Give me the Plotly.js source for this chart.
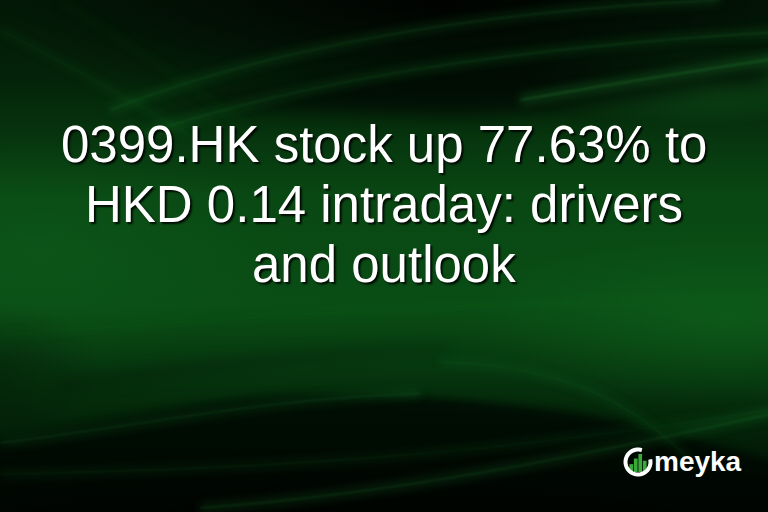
<!DOCTYPE html>
<html>
<head>
<meta charset="utf-8">
<script src="https://cdn.plot.ly/plotly-3.0.1.min.js"></script>
<style>
  html, body { margin: 0; padding: 0; background: #021004; }
  #card { width: 768px; height: 512px; }
</style>
</head>
<body>
<div id="card"></div>
<script>
// headline, one entry per line as it wraps on the card
const titleLines = ['0399.HK stock up 77.63% to', 'HKD 0.14 intraday: drivers', 'and outlook'];
const brandName = 'meyka';
// little bar glyph inside the logo ring
const logoBarIdx = [0, 1, 2, 3];
const logoBarVals = [7, 12, 16, 10];

const W = 768, H = 512;

// paint the wavy green backdrop on a canvas, then hand it to plotly as a layout image
function paintBackdrop() {
    const c = document.createElement('canvas');
    c.width = W; c.height = H;
    const g = c.getContext('2d');

    const lg = g.createLinearGradient(0, 0, 0, H);
    lg.addColorStop(0, '#031806');
    lg.addColorStop(0.15, '#042209');
    lg.addColorStop(0.38, '#094713');
    lg.addColorStop(0.6, '#0a4d15');
    lg.addColorStop(0.8, '#04280a');
    lg.addColorStop(1, '#010a02');
    g.fillStyle = lg;
    g.fillRect(0, 0, W, H);

    function blob(cx, cy, rx, ry, rgb, a) {
        g.save();
        g.translate(cx, cy);
        g.scale(rx, ry);
        const rg = g.createRadialGradient(0, 0, 0, 0, 0, 1);
        rg.addColorStop(0, 'rgba(' + rgb + ',' + a + ')');
        rg.addColorStop(1, 'rgba(' + rgb + ',0)');
        g.fillStyle = rg;
        g.beginPath();
        g.arc(0, 0, 1, 0, Math.PI * 2);
        g.fill();
        g.restore();
    }

    function fillPath(pts, color, blur) {
        g.save();
        g.filter = 'blur(' + blur + 'px)';
        g.fillStyle = color;
        g.beginPath();
        g.moveTo(pts[0], pts[1]);
        for (let i = 2; i < pts.length; i += 6) {
            g.bezierCurveTo(pts[i], pts[i + 1], pts[i + 2], pts[i + 3], pts[i + 4], pts[i + 5]);
        }
        g.closePath();
        g.fill();
        g.restore();
    }

    // brighter patches left-middle and right-middle
    blob(40, 250, 260, 110, '16,100,30', 0.4);
    blob(730, 320, 260, 90, '16,105,30', 0.5);
    blob(700, 85, 190, 40, '22,120,38', 0.45);
    // dark top
    blob(440, 0, 440, 120, '0,0,0', 0.9);

    // dark wedge below the top streaks
    fillPath([140, 108, 300, 85, 500, 50, 768, 62,
              768, 62, 768, 86, 768, 86,
              650, 96, 540, 118, 440, 116,
              340, 114, 240, 110, 140, 108], 'rgba(0,0,0,0.55)', 10);

    // dark band in the middle-left
    fillPath([60, 380, 200, 360, 330, 345, 450, 345,
              450, 345, 450, 352, 450, 352,
              330, 355, 200, 372, 60, 392], 'rgba(0,0,0,0.22)', 7);

    // dark hill at the bottom
    fillPath([-10, 440, 120, 420, 220, 396, 310, 394,
              400, 393, 480, 400, 570, 412,
              650, 425, 720, 448, 778, 462,
              778, 462, 778, 522, 778, 522,
              778, 522, -10, 522, -10, 522], 'rgba(0,4,1,0.72)', 4);
    blob(420, 540, 560, 100, '0,0,0', 0.55);
    blob(0, 370, 100, 70, '0,0,0', 0.25);

    // light streaks: a soft glow band plus a faint core
    function streak(pts, a, w) {
        g.save();
        g.filter = 'blur(5px)';
        g.strokeStyle = 'rgba(35,150,55,' + (a * 0.9) + ')';
        g.lineWidth = w * 6;
        g.beginPath();
        g.moveTo(pts[0], pts[1]);
        g.bezierCurveTo(pts[2], pts[3], pts[4], pts[5], pts[6], pts[7]);
        g.stroke();
        g.filter = 'blur(1px)';
        g.strokeStyle = 'rgba(60,180,75,' + (a * 0.7) + ')';
        g.lineWidth = w;
        g.beginPath();
        g.moveTo(pts[0], pts[1]);
        g.bezierCurveTo(pts[2], pts[3], pts[4], pts[5], pts[6], pts[7]);
        g.stroke();
        g.restore();
    }
    streak([110, 110, 250, 55, 450, 12, 720, 0], 0.22, 1.3);
    streak([140, 135, 300, 82, 500, 48, 780, 32], 0.22, 1.3);
    streak([520, 100, 600, 86, 700, 70, 780, 58], 0.32, 1.6);
    streak([0, 30, 60, 60, 130, 100, 190, 135], 0.12, 1);
    streak([60, 0, 120, 40, 200, 90, 250, 130], 0.07, 1);
    streak([0, 443, 150, 425, 260, 398, 420, 394], 0.2, 1.3);
    streak([0, 474, 250, 470, 500, 455, 780, 408], 0.14, 1.2);
    streak([200, 508, 400, 494, 600, 452, 780, 412], 0.22, 1.4);
    streak([440, 362, 560, 365, 630, 400, 690, 460], 0.14, 1.2);
    streak([0, 335, 200, 320, 420, 305, 780, 295], 0.06, 1);
    return c.toDataURL('image/png');
}

// open ring of the logo, gap at the top right
function ringPath(cx, cy, r, a0, a1) {
    let d = '';
    for (let i = 0; i <= 40; i++) {
        const a = (a0 + (a1 - a0) * i / 40) * Math.PI / 180;
        const px = cx + r * Math.cos(a);
        const py = cy - r * Math.sin(a);
        d += (i === 0 ? 'M' : 'L') + px.toFixed(2) + ',' + py.toFixed(2);
    }
    return d;
}

const titleFont = {
    family: 'Liberation Sans, Arial, sans-serif',
    size: 51,
    color: '#ffffff',
    shadow: '2px 2px 2px rgba(0,0,0,0.85)'
};
const lineCenters = [144, 204, 264];

const annotations = titleLines.map((t, i) => ({
    text: t,
    x: W / 2, y: lineCenters[i],
    xref: 'x', yref: 'y',
    xanchor: 'center', yanchor: 'middle',
    showarrow: false,
    font: titleFont
}));
annotations.push({
    text: brandName,
    x: 652, y: 461,
    xref: 'x', yref: 'y',
    xanchor: 'left', yanchor: 'middle',
    showarrow: false,
    font: { family: 'Liberation Sans, Arial, sans-serif', size: 28, weight: 'bold', color: '#ffffff' }
});

const traces = [
    {
        type: 'bar',
        x: logoBarIdx,
        y: logoBarVals,
        xaxis: 'x2', yaxis: 'y2',
        marker: { color: '#3aa83a' },
        hoverinfo: 'skip'
    }
];

const layout = {
    width: W, height: H,
    margin: { l: 0, r: 0, t: 0, b: 0 },
    paper_bgcolor: '#021004',
    plot_bgcolor: 'rgba(0,0,0,0)',
    showlegend: false,
    bargap: 0.18,
    xaxis: { range: [0, W], visible: false, domain: [0, 1] },
    yaxis: { range: [H, 0], visible: false, domain: [0, 1] },
    xaxis2: { range: [-0.5, 3.5], visible: false, domain: [629 / W, 647 / W], anchor: 'y2' },
    yaxis2: { range: [0, 16], visible: false, domain: [(H - 472) / H, (H - 454) / H], anchor: 'x2' },
    images: [{
        source: paintBackdrop(),
        xref: 'paper', yref: 'paper',
        x: 0, y: 1, sizex: 1, sizey: 1,
        xanchor: 'left', yanchor: 'top',
        sizing: 'stretch', layer: 'below'
    }],
    shapes: [{
        type: 'path',
        xref: 'x', yref: 'y',
        path: ringPath(638, 462, 12.5, 72, 372),
        line: { color: '#ffffff', width: 4 }
    }],
    annotations: annotations
};

Plotly.newPlot('card', traces, layout, { staticPlot: true, displayModeBar: false });
</script>
</body>
</html>
